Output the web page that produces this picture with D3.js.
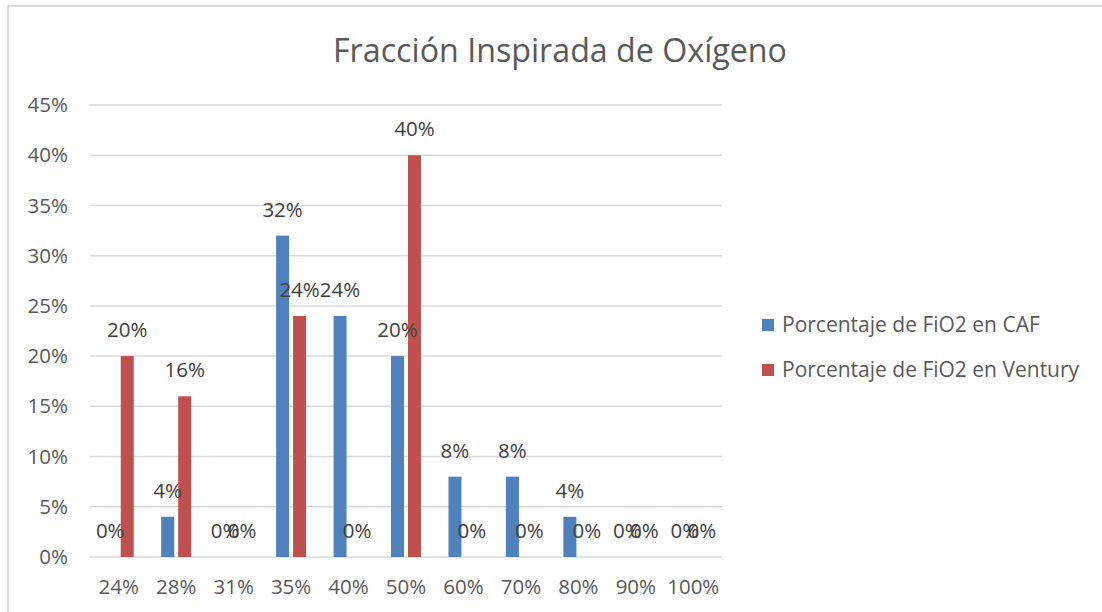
<!DOCTYPE html>
<html>
<head>
<meta charset="utf-8">
<script src="https://cdn.jsdelivr.net/npm/d3@7"></script>
<style>
  body { margin: 0; background: #fff; }
  svg { display: block; font-family: "Open Sans", sans-serif; }
</style>
</head>
<body>
<svg id="chart" width="1102" height="612"></svg>
<script>
const categories = ["24%", "28%", "31%", "35%", "40%", "50%", "60%", "70%", "80%", "90%", "100%"];
const seriesNames = ["Porcentaje de FiO2 en CAF", "Porcentaje de FiO2 en Ventury"];
const cafValues = [0, 4, 0, 32, 24, 20, 8, 8, 4, 0, 0];
const venturyValues = [20, 16, 0, 24, 0, 40, 0, 0, 0, 0, 0];
const yTicks = [0, 5, 10, 15, 20, 25, 30, 35, 40, 45];
const colors = ["#4f81bd", "#c0504d"];

const svg = d3.select("#chart");
const margin = { top: 105, left: 90, right: 380, bottom: 55 };
const width = 1102, height = 612;
const fontSize = 20.5;

// chart frame
svg.append("rect")
  .attr("x", 8).attr("y", 6)
  .attr("width", 1110).attr("height", 620)
  .attr("fill", "none")
  .attr("stroke", "#d9d9d9")
  .attr("stroke-width", 2);

const x0 = d3.scaleBand()
  .domain(categories)
  .range([margin.left, width - margin.right])
  .padding(0);

const x1 = d3.scaleBand()
  .domain(seriesNames)
  .range([0, x0.bandwidth()])
  .paddingInner(0.235)
  .paddingOuter(0.81);

const y = d3.scaleLinear()
  .domain([0, 45])
  .range([height - margin.bottom, margin.top]);

// gridlines
svg.append("g")
  .selectAll("line")
  .data(yTicks)
  .join("line")
  .attr("x1", margin.left)
  .attr("x2", width - margin.right)
  .attr("y1", d => y(d))
  .attr("y2", d => y(d))
  .attr("stroke", "#d9d9d9")
  .attr("stroke-width", 1.5);

// y axis
const yAxis = g => g
  .attr("transform", `translate(${margin.left - 22},0)`)
  .call(d3.axisLeft(y).tickValues(yTicks).tickFormat(d => d + "%").tickSize(0).tickPadding(0))
  .call(g => g.select(".domain").remove())
  .call(g => g.selectAll("text")
    .attr("fill", "#595959")
    .attr("font-size", fontSize)
    .attr("font-family", "Open Sans, sans-serif"));
svg.append("g").call(yAxis);

// x axis
const xAxis = g => g
  .attr("transform", `translate(0,${height - margin.bottom})`)
  .call(d3.axisBottom(x0).tickSize(0).tickPadding(22))
  .call(g => g.select(".domain").remove())
  .call(g => g.selectAll("text")
    .attr("fill", "#595959")
    .attr("font-size", fontSize)
    .attr("font-family", "Open Sans, sans-serif"));
svg.append("g").call(xAxis);

const rows = categories.map((c, i) => ({
  cat: c,
  values: [
    { key: seriesNames[0], value: cafValues[i], color: colors[0] },
    { key: seriesNames[1], value: venturyValues[i], color: colors[1] }
  ]
}));

const groups = svg.append("g")
  .selectAll("g")
  .data(rows)
  .join("g")
  .attr("transform", d => `translate(${x0(d.cat)},0)`);

groups.selectAll("rect")
  .data(d => d.values)
  .join("rect")
  .attr("x", d => x1(d.key))
  .attr("y", d => y(d.value))
  .attr("width", x1.bandwidth())
  .attr("height", d => y(0) - y(d.value))
  .attr("fill", d => d.color);

groups.selectAll("text")
  .data(d => d.values)
  .join("text")
  .attr("x", d => x1(d.key) + x1.bandwidth() / 2)
  .attr("y", d => y(d.value) - 19)
  .attr("text-anchor", "middle")
  .attr("font-size", fontSize)
  .attr("fill", "#404040")
  .text(d => d.value + "%");

// title
svg.append("text")
  .attr("x", 560)
  .attr("y", 62)
  .attr("text-anchor", "middle")
  .attr("font-size", 33)
  .attr("textLength", 454)
  .attr("lengthAdjust", "spacingAndGlyphs")
  .attr("fill", "#595959")
  .text("Fracción Inspirada de Oxígeno");

// legend
const legend = svg.append("g")
  .selectAll("g")
  .data(seriesNames)
  .join("g")
  .attr("transform", (d, i) => `translate(762,${325 + i * 45})`);

legend.append("rect")
  .attr("x", 0).attr("y", -6)
  .attr("width", 12).attr("height", 12)
  .attr("fill", (d, i) => colors[i]);

legend.append("text")
  .attr("x", 20)
  .attr("y", 0)
  .attr("dy", "0.35em")
  .attr("font-size", 21)
  .attr("fill", "#595959")
  .text(d => d);
</script>
</body>
</html>
